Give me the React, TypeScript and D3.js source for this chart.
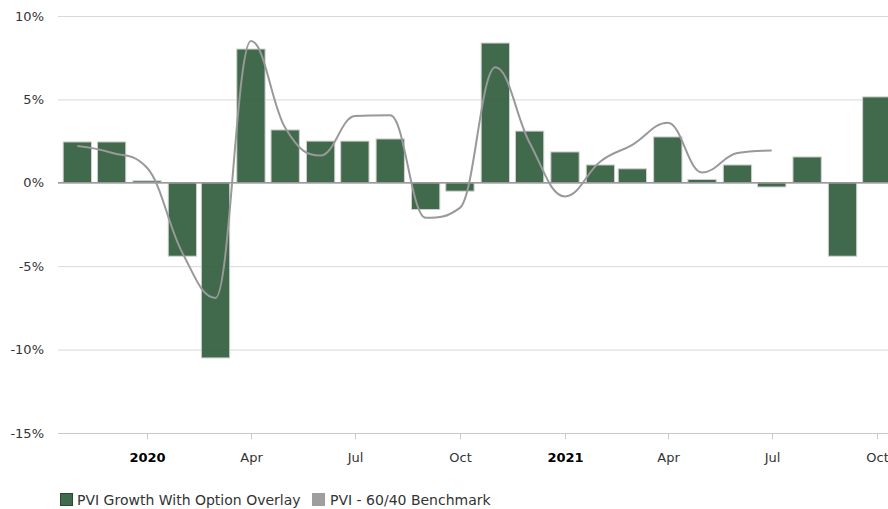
import React from "react";
import * as d3 from "d3";

const barDates = [
  "2019-11-01", "2019-12-01", "2020-01-01", "2020-02-01", "2020-03-01", "2020-04-01",
  "2020-05-01", "2020-06-01", "2020-07-01", "2020-08-01", "2020-09-01", "2020-10-01",
  "2020-11-01", "2020-12-01", "2021-01-01", "2021-02-01", "2021-03-01", "2021-04-01",
  "2021-05-01", "2021-06-01", "2021-07-01", "2021-08-01", "2021-09-01", "2021-10-01",
];
const growthValues = [
  2.45, 2.45, 0.12, -4.4, -10.5, 8.02, 3.17, 2.5, 2.5, 2.63, -1.6, -0.5,
  8.38, 3.1, 1.85, 1.07, 0.84, 2.75, 0.2, 1.07, -0.25, 1.55, -4.4, 5.15,
];
const benchDates = barDates.slice(0, 21);
const benchValues = [
  2.2, 1.8, 0.9, -4.2, -6.9, 8.5, 3.3, 1.63, 4.0, 4.05, -2.1, -1.5,
  6.93, 2.4, -0.82, 1.28, 2.28, 3.6, 0.62, 1.78, 1.93,
];
const yTicks = [10, 5, 0, -5, -10, -15];
const xTicks = [
  { date: "2020-01-01", label: "2020", bold: true },
  { date: "2020-04-01", label: "Apr", bold: false },
  { date: "2020-07-01", label: "Jul", bold: false },
  { date: "2020-10-01", label: "Oct", bold: false },
  { date: "2021-01-01", label: "2021", bold: true },
  { date: "2021-04-01", label: "Apr", bold: false },
  { date: "2021-07-01", label: "Jul", bold: false },
  { date: "2021-10-01", label: "Oct", bold: false },
];
const seriesNames = ["PVI Growth With Option Overlay", "PVI - 60/40 Benchmark"];

const W = 888;
const H = 509;
const plotLeft = 58;
const plotRight = 888;
const FONT = "'DejaVu Sans', Verdana, sans-serif";

const parse = (s: string) => new Date(s + "T00:00:00Z");

function highchartsSpline(pts: [number, number][]) {
  const p = d3.path();
  const smoothing = 1.5;
  const denom = smoothing + 1;
  const conts: { lx: number; ly: number; rx: number; ry: number }[] = [];
  for (let i = 0; i < pts.length; i++) {
    const [x, y] = pts[i];
    let lx = x, ly = y, rx = x, ry = y;
    if (i > 0 && i < pts.length - 1) {
      const [lastX, lastY] = pts[i - 1];
      const [nextX, nextY] = pts[i + 1];
      lx = (smoothing * x + lastX) / denom;
      ly = (smoothing * y + lastY) / denom;
      rx = (smoothing * x + nextX) / denom;
      ry = (smoothing * y + nextY) / denom;
      if (rx !== lx) {
        const corr = ((ry - ly) * (rx - x)) / (rx - lx) + y - ry;
        ly += corr;
        ry += corr;
        if (ly > lastY && ly > y) {
          ly = Math.max(lastY, y);
          ry = 2 * y - ly;
        } else if (ly < lastY && ly < y) {
          ly = Math.min(lastY, y);
          ry = 2 * y - ly;
        }
        if (ry > nextY && ry > y) {
          ry = Math.max(nextY, y);
          ly = 2 * y - ry;
        } else if (ry < nextY && ry < y) {
          ry = Math.min(nextY, y);
          ly = 2 * y - ry;
        }
      }
    }
    conts.push({ lx, ly, rx, ry });
  }
  pts.forEach(([x, y], i) => {
    if (i === 0) p.moveTo(x, y);
    else p.bezierCurveTo(conts[i - 1].rx, conts[i - 1].ry, conts[i].lx, conts[i].ly, x, y);
  });
  return p.toString();
}

export default function App() {
  const x = d3
    .scaleUtc()
    .domain([parse("2020-01-01"), parse("2021-01-01")])
    .range([147, 565]);
  const y = d3.scaleLinear().domain([-15, 10]).range([433, 16]);

  const monthPx = x(parse("2020-02-01")) - x(parse("2020-01-01"));
  const barW = monthPx * 0.8;

  const linePts: [number, number][] = benchDates.map((d, i) => [x(parse(d)), y(benchValues[i])]);
  const linePath = highchartsSpline(linePts);

  return (
    <svg
      width={W}
      height={H}
      style={{ position: "absolute", left: 0, top: 0, background: "#fff" }}
      fontFamily={FONT}
    >
      <defs>
        <clipPath id="plotClip">
          <rect x={plotLeft} y={0} width={plotRight - plotLeft} height={440} />
        </clipPath>
      </defs>
      {yTicks.map((t) => (
        <g key={t}>
          <line
            x1={plotLeft}
            x2={plotRight}
            y1={y(t) + 0.5}
            y2={y(t) + 0.5}
            stroke={t === -15 ? "#c8c8c8" : "#d8d8d8"}
            strokeWidth={1}
          />
          <text x={44} y={y(t)} dy="0.35em" textAnchor="end" fontSize={13} fill="#333">
            {t}%
          </text>
        </g>
      ))}
      {xTicks.map((t) => {
        const xx = Math.round(x(parse(t.date))) + 0.5;
        return (
          <g key={t.date}>
            <line x1={xx} x2={xx} y1={434} y2={439} stroke="#c8c8c8" />
            <text
              x={xx}
              y={462}
              textAnchor="middle"
              fontSize={13}
              fontWeight={t.bold ? "bold" : "normal"}
              fill={t.bold ? "#000" : "#333"}
            >
              {t.label}
            </text>
          </g>
        );
      })}
      <g clipPath="url(#plotClip)">
        {barDates.map((d, i) => {
          const v = growthValues[i];
          const cx = x(parse(d));
          const y0 = y(0);
          const y1 = y(v);
          return (
            <rect
              key={d}
              x={cx - barW / 2}
              y={Math.min(y0, y1)}
              width={barW}
              height={Math.abs(y1 - y0)}
              fill="#2c5a3a"
              fillOpacity={0.9}
              stroke="#d0d0d0"
              strokeWidth={1}
            />
          );
        })}
        <line x1={plotLeft} x2={plotRight} y1={y(0)} y2={y(0)} stroke="#9a9a9a" strokeWidth={1.5} />
        <path d={linePath} fill="none" stroke="#999" strokeWidth={2} />
      </g>
      <g>
        <rect x={60.5} y={493.5} width={12} height={12} fill="#3f6b4b" stroke="#2a4a33" strokeWidth={1} />
        <text x={77} y={505} fontSize={14} fill="#333">
          {seriesNames[0]}
        </text>
        <rect x={312} y={493} width={13} height={13} fill="#9e9e9e" />
        <text x={330} y={505} fontSize={14} fill="#333">
          {seriesNames[1]}
        </text>
      </g>
    </svg>
  );
}
